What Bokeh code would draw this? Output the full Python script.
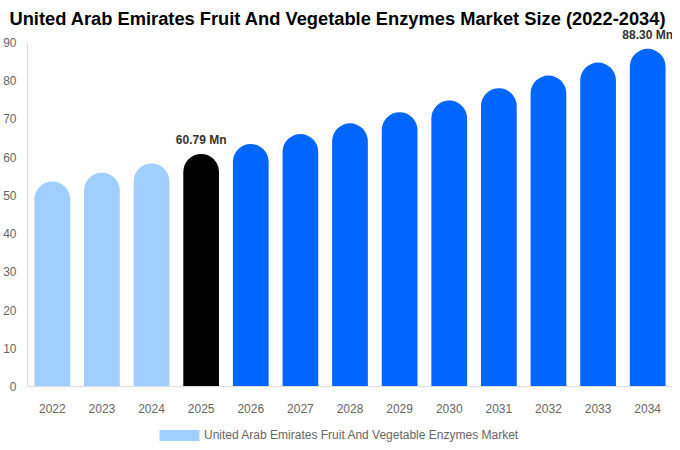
from bokeh.plotting import figure
from bokeh.layouts import column
from bokeh.models import ColumnDataSource, LabelSet, Legend, LegendItem, Range1d, FixedTicker
from bokeh.core.properties import value
from bokeh.embed import file_html
from bokeh.resources import INLINE

years = ["2022", "2023", "2024", "2025", "2026", "2027", "2028",
         "2029", "2030", "2031", "2032", "2033", "2034"]
market_size = [53.6, 55.9, 58.3, 60.79, 63.4, 66.0, 68.8, 71.7, 74.8, 78.0, 81.3, 84.7, 88.30]
bar_colors = ["#a0cfff"] * 3 + ["#000000"] + ["#0066ff"] * 9
y_ticks = [0, 10, 20, 30, 40, 50, 60, 70, 80, 90]

label_years = ["2025", "2034"]
label_values = [60.79, 88.30]
label_texts = ["60.79 Mn", "88.30 Mn"]

series_name = "United Arab Emirates Fruit And Vegetable Enzymes Market"
font = "Liberation Sans"

src = ColumnDataSource(data=dict(year=years, value=market_size, color=bar_colors))
lbl_src = ColumnDataSource(data=dict(year=label_years, value=label_values, text=label_texts))

# main chart; range goes a bit past 90 so the top label is not clipped
p = figure(x_range=years, y_range=Range1d(0, 93.6), width=672, height=415,
           output_backend="svg", toolbar_location=None,
           title="United Arab Emirates Fruit And Vegetable Enzymes Market Size (2022-2034)")
p.title.text_font = font
p.title.text_font_size = "18.3px"
p.title.text_font_style = "bold"
p.title.text_color = "#000000"
p.title.align = "left"
p.title.offset = -18
p.title.standoff = 0
p.min_border_top = 28
p.min_border_bottom = 26
p.min_border_right = 0
p.min_border_left = 0
p.outline_line_color = None
p.xgrid.grid_line_color = None
p.ygrid.grid_line_color = None

bars = p.vbar(x="year", top="value", width=0.72, source=src, fill_color="color",
              line_color=None, border_radius=(18, 18, 0, 0))

p.yaxis.ticker = FixedTicker(ticks=y_ticks)
p.yaxis.bounds = (0, 90)
for ax in (p.xaxis[0], p.yaxis[0]):
    ax.axis_line_color = "#dddddd"
    ax.major_tick_line_color = None
    ax.minor_tick_line_color = None
    ax.major_label_text_font = font
    ax.major_label_text_font_size = "12px"
    ax.major_label_text_color = "#666666"
p.xaxis.major_label_standoff = 11
p.yaxis.major_label_standoff = 5

labels = LabelSet(x="year", y="value", text="text", source=lbl_src, y_offset=10,
                  text_align="center", text_baseline="alphabetic", text_font=value(font),
                  text_font_size="12px", text_font_style="bold", text_color="#333333")
p.add_layout(labels)

# legend strip under the chart; its renderer is hidden, only the legend shows
leg = figure(width=672, height=27, x_range=years, y_range=Range1d(-1000, -999),
             x_axis_type=None, y_axis_type=None, output_backend="svg",
             toolbar_location=None, min_border=0)
leg.outline_line_color = None
leg.xgrid.grid_line_color = None
leg.ygrid.grid_line_color = None
swatch = leg.vbar(x="year", top="value", width=0.72, source=src,
                  fill_color="color", line_color=None, visible=False)
legend = Legend(items=[LegendItem(label=series_name, renderers=[swatch], index=0)],
                orientation="horizontal", location=(127, 0),
                glyph_width=50, glyph_height=14, label_height=14, label_standoff=0,
                label_text_font=font, label_text_font_size="12px",
                label_text_color="#666666", border_line_color=None,
                background_fill_alpha=0, padding=0, margin=0, spacing=0)
leg.add_layout(legend)

layout = column(p, leg, spacing=0)
open("out.html", "w").write(file_html(layout, INLINE))
